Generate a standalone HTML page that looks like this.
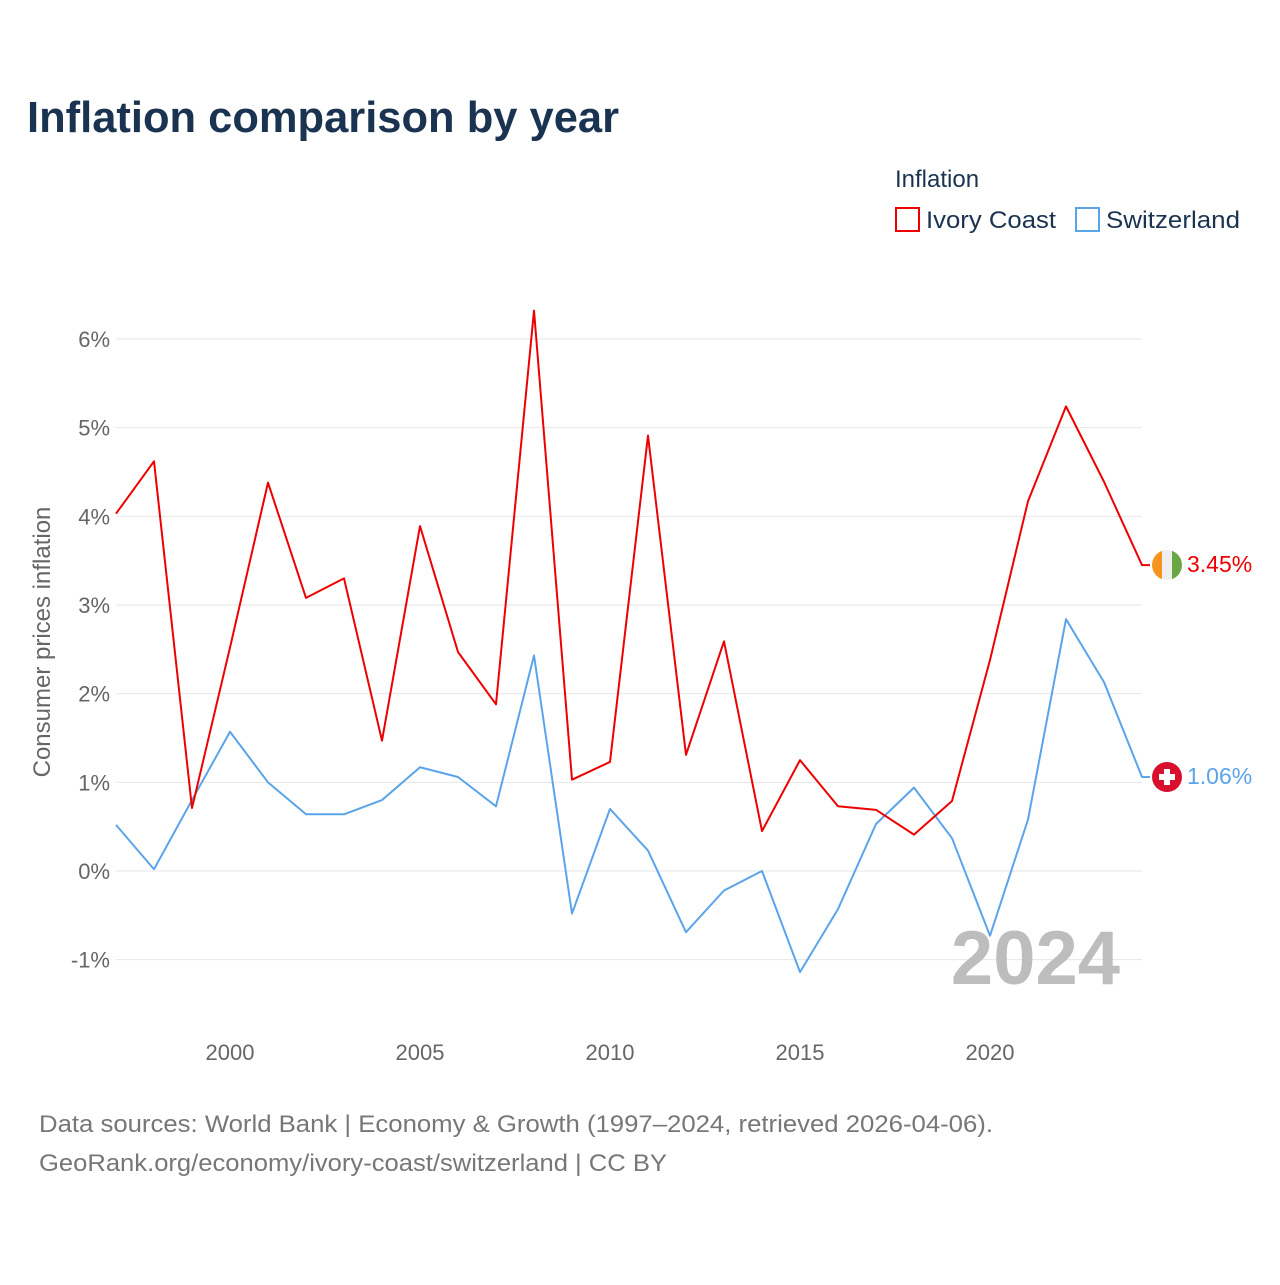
<!DOCTYPE html>
<html><head><meta charset="utf-8"><style>
body{margin:0;background:#fff;font-family:"Liberation Sans",sans-serif}
svg text{font-family:"Liberation Sans",sans-serif}
</style></head><body>
<svg id="chart" width="1280" height="1280" viewBox="0 0 1280 1280">
<text x="27" y="132" font-size="44" font-weight="bold" fill="#1a3350" textLength="592" lengthAdjust="spacingAndGlyphs">Inflation comparison by year</text>
<text x="895" y="187" font-size="24" fill="#1a3350">Inflation</text>
<g><rect x="896" y="208" width="23" height="23" fill="none" stroke="#ee0000" stroke-width="2"/><text x="926" y="228" font-size="24" fill="#1a3350" textLength="130" lengthAdjust="spacingAndGlyphs">Ivory Coast</text></g>
<g><rect x="1076" y="208" width="23" height="23" fill="none" stroke="#5ba4ea" stroke-width="2"/><text x="1106" y="228" font-size="24" fill="#1a3350" textLength="134" lengthAdjust="spacingAndGlyphs">Switzerland</text></g>
<g id="grid"></g>
<g id="yticks"></g>
<g id="xticks"></g>
<text transform="translate(50,642) rotate(-90)" text-anchor="middle" font-size="24" fill="#666">Consumer prices inflation</text>
<text x="1120" y="984" text-anchor="end" font-size="76" font-weight="bold" fill="#bdbdbd">2024</text>
<g id="series"></g>
<g>
<clipPath id="c1"><circle cx="1167" cy="565" r="15"/></clipPath>
<g clip-path="url(#c1)"><rect x="1152" y="550" width="10" height="30" fill="#f7941d"/><rect x="1162" y="550" width="10" height="30" fill="#eee"/><rect x="1172" y="550" width="10" height="30" fill="#6ba644"/></g></g>
<g>
<circle cx="1167" cy="777" r="15" fill="#d8102d"/><rect x="1164" y="769" width="6" height="16" fill="#fff"/><rect x="1159" y="774" width="16" height="6" fill="#fff"/></g>
<text x="1187" y="572" font-size="23" fill="#ee0000">3.45%</text>
<text x="1187" y="784" font-size="23" fill="#5ba4ea">1.06%</text>
<text x="39" y="1132" font-size="24" fill="#777" textLength="954" lengthAdjust="spacingAndGlyphs">Data sources: World Bank | Economy &amp; Growth (1997–2024, retrieved 2026-04-06).</text>
<text x="39" y="1171" font-size="24" fill="#777" textLength="628" lengthAdjust="spacingAndGlyphs">GeoRank.org/economy/ivory-coast/switzerland | CC BY</text>
</svg>
<script>
const years=[1997,1998,1999,2000,2001,2002,2003,2004,2005,2006,2007,2008,2009,2010,2011,2012,2013,2014,2015,2016,2017,2018,2019,2020,2021,2022,2023,2024];
const ivoryCoast=[4.03,4.62,0.71,2.52,4.38,3.08,3.30,1.47,3.89,2.47,1.88,6.32,1.03,1.23,4.91,1.31,2.59,0.45,1.25,0.73,0.69,0.41,0.79,2.38,4.17,5.24,4.39,3.45];
const switzerland=[0.52,0.02,0.80,1.57,1.00,0.64,0.64,0.80,1.17,1.06,0.73,2.43,-0.48,0.70,0.23,-0.69,-0.22,0.00,-1.14,-0.43,0.53,0.94,0.37,-0.73,0.58,2.84,2.13,1.06];
const yTicks=[-1,0,1,2,3,4,5,6];
const xTicks=[2000,2005,2010,2015,2020];
const NS='http://www.w3.org/2000/svg';
const xs=y=>116+(y-1997)*38;
const ys=v=>871-v*88.67;
function mk(t,a,p){const e=document.createElementNS(NS,t);for(const k in a)e.setAttribute(k,a[k]);p.appendChild(e);return e;}
const grid=document.getElementById('grid'),yt=document.getElementById('yticks'),xt=document.getElementById('xticks'),se=document.getElementById('series');
yTicks.forEach(v=>{
 const l=mk('line',{x1:116,x2:1142,y1:ys(v),y2:ys(v),stroke:'#e6e6e6','stroke-width':1},grid);
 
 
 const t=mk('text',{x:110,y:ys(v)+8,'text-anchor':'end','font-size':22,fill:'#666'},yt);
 t.textContent=v+'%';
 
 
});
xTicks.forEach(v=>{
 const t=mk('text',{x:xs(v),y:1060,'text-anchor':'middle','font-size':22,fill:'#666'},xt);
 t.textContent=v;
 
 
});
function line(vals,color,name){
 let d=vals.map((v,i)=>(i?'L':'M')+xs(years[i])+','+ys(v)).join(' ');
 d+=' L'+(xs(years[years.length-1])+8)+','+ys(vals[vals.length-1]);
 const p=mk('path',{d:d,fill:'none',stroke:color,'stroke-width':2,'stroke-linejoin':'round'},se);
 
 
}
line(switzerland,'#5ba4ea','line-switzerland');
line(ivoryCoast,'#ee0000','line-ivory-coast');
</script>
</body></html>
